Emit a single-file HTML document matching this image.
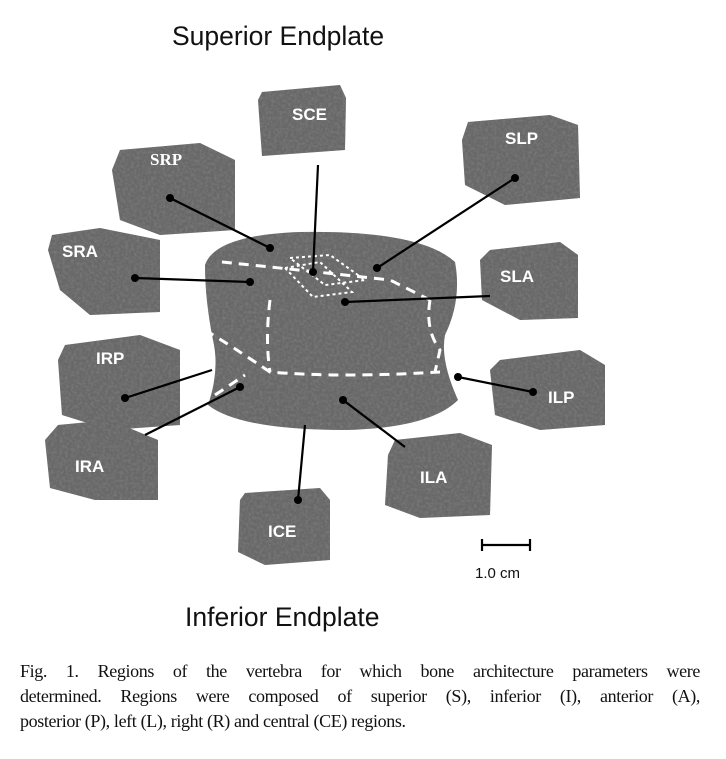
<!DOCTYPE html>
<html><head><meta charset="utf-8"><style>
html,body{margin:0;padding:0;background:#fff;}
body{width:726px;height:759px;position:relative;overflow:hidden;}
.cap{position:absolute;left:20px;width:680px;font-family:"Liberation Serif",serif;font-size:18px;letter-spacing:-0.37px;line-height:25px;color:#111;top:659px;}
.cap div{white-space:nowrap;}
.j{text-align:justify;text-align-last:justify;}
</style></head><body>
<svg width="726" height="759" style="position:absolute;left:0;top:0">
<defs>
<filter id="bone" x="0" y="0" width="100%" height="100%">
<feTurbulence type="fractalNoise" baseFrequency="0.35" numOctaves="2" seed="3" result="n"/>
<feColorMatrix in="n" type="matrix" values="0 0 0 0 0.2  0 0 0 0 0.2  0 0 0 0 0.2  1.6 0 0 0 -0.55" result="d"/>
<feComposite in="d" in2="SourceGraphic" operator="in" result="dd"/>
<feMerge><feMergeNode in="SourceGraphic"/><feMergeNode in="dd"/></feMerge>
</filter>
</defs>
<g font-family="Liberation Sans, sans-serif" font-size="26.5" fill="#111">
<text x="172" y="45">Superior Endplate</text>
<text x="185" y="626">Inferior Endplate</text>
</g>
<g fill="#686868" filter="url(#bone)">
<polygon points="262,92 340,85 346,98 345,150 262,156 258,100"/>
<polygon points="120,150 200,143 235,160 235,230 160,235 120,220 112,170"/>
<polygon points="468,122 550,115 578,125 580,198 505,205 465,185 462,140"/>
<polygon points="52,235 100,228 160,240 160,312 90,315 60,290 48,250"/>
<polygon points="490,250 560,242 578,255 578,318 520,320 482,300 480,260"/>
<polygon points="65,345 140,335 180,350 180,425 110,430 62,415 58,360"/>
<polygon points="58,425 110,420 158,440 158,500 95,500 50,488 45,440"/>
<polygon points="500,360 580,350 605,365 605,425 540,430 495,415 490,370"/>
<polygon points="395,440 460,433 492,445 490,515 420,518 385,505 388,455"/>
<polygon points="245,493 320,488 330,500 330,560 265,565 238,552 240,500"/>
<path d="M205,265 Q215,235 300,232 Q420,230 455,262 Q462,300 445,335 Q440,360 458,400 Q430,428 345,430 Q240,430 208,405 Q220,370 213,340 Q205,300 205,265 Z"/>
</g>
<g fill="none" stroke="#fff" stroke-width="3" stroke-dasharray="10,7">
<path d="M222,262 Q300,270 390,280 L430,300"/>
<path d="M270,300 Q265,340 270,372"/>
<path d="M430,300 Q425,330 440,350 L435,372"/>
<path d="M205,330 Q230,345 270,372 Q340,378 440,372"/>
<path d="M215,395 L245,375"/>
</g>
<g fill="none" stroke="#fff" stroke-width="2" stroke-dasharray="3,3">
<polygon points="290,258 330,255 365,280 325,285"/>
<polygon points="285,268 320,262 352,292 313,297"/>
</g>
<g stroke="#000" stroke-width="2.2" fill="none">
<line x1="318" y1="165" x2="313" y2="272"/>
<line x1="170" y1="198" x2="270" y2="248"/>
<line x1="515" y1="178" x2="377" y2="268"/>
<line x1="135" y1="278" x2="250" y2="282"/>
<line x1="490" y1="296" x2="345" y2="302"/>
<line x1="125" y1="398" x2="212" y2="370"/>
<line x1="145" y1="435" x2="240" y2="387"/>
<line x1="533" y1="392" x2="458" y2="377"/>
<line x1="343" y1="400" x2="405" y2="447"/>
<line x1="305" y1="425" x2="298" y2="500"/>
<line x1="481" y1="545" x2="531" y2="545"/>
<line x1="482" y1="539" x2="482" y2="551"/>
<line x1="530" y1="539" x2="530" y2="551"/>
</g>
<g fill="#000">
<circle cx="313" cy="272" r="4"/><circle cx="170" cy="198" r="4"/><circle cx="270" cy="248" r="4"/>
<circle cx="515" cy="178" r="4"/><circle cx="377" cy="268" r="4"/><circle cx="135" cy="278" r="4"/>
<circle cx="250" cy="282" r="4"/><circle cx="345" cy="302" r="4"/><circle cx="125" cy="398" r="4"/>
<circle cx="240" cy="387" r="4"/><circle cx="533" cy="392" r="4"/><circle cx="458" cy="377" r="4"/>
<circle cx="343" cy="400" r="4"/><circle cx="298" cy="500" r="4"/>
</g>
<g font-family="Liberation Sans, sans-serif" font-size="17" font-weight="bold" fill="#fff">
<text x="292" y="120">SCE</text>
<text x="150" y="165" font-family="Liberation Serif, serif">SRP</text>
<text x="505" y="144">SLP</text>
<text x="62" y="257">SRA</text>
<text x="500" y="282">SLA</text>
<text x="96" y="364">IRP</text>
<text x="75" y="472">IRA</text>
<text x="548" y="403">ILP</text>
<text x="420" y="483">ILA</text>
<text x="268" y="537">ICE</text>
</g>
<text x="475" y="578" font-family="Liberation Sans, sans-serif" font-size="15" fill="#111">1.0 cm</text>
</svg>
<div class="cap">
<div class="j">Fig. 1. Regions of the vertebra for which bone architecture parameters were</div>
<div class="j">determined. Regions were composed of superior (S), inferior (I), anterior (A),</div>
<div>posterior (P), left (L), right (R) and central (CE) regions.</div>
</div>
</body></html>
